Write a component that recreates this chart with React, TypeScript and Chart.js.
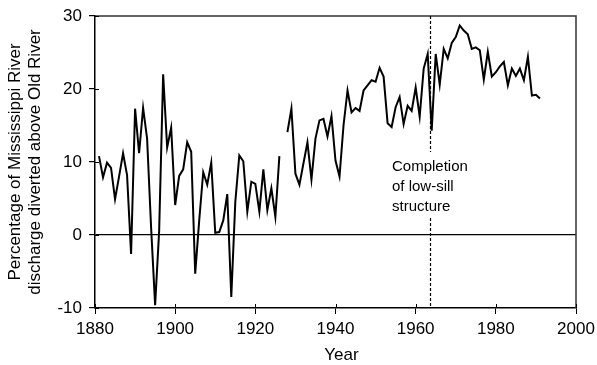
import React, { useEffect, useRef } from "react";
import { Chart, registerables } from "chart.js";

Chart.register(...registerables);

const years: number[] = [
  1881, 1882, 1883, 1884, 1885, 1886, 1887, 1888, 1889, 1890,
  1891, 1892, 1893, 1894, 1895, 1896, 1897, 1898, 1899, 1900,
  1901, 1902, 1903, 1904, 1905, 1906, 1907, 1908, 1909, 1910,
  1911, 1912, 1913, 1914, 1915, 1916, 1917, 1918, 1919, 1920,
  1921, 1922, 1923, 1924, 1925, 1926, 1927, 1928, 1929, 1930,
  1931, 1932, 1933, 1934, 1935, 1936, 1937, 1938, 1939, 1940,
  1941, 1942, 1943, 1944, 1945, 1946, 1947, 1948, 1949, 1950,
  1951, 1952, 1953, 1954, 1955, 1956, 1957, 1958, 1959, 1960,
  1961, 1962, 1963, 1964, 1965, 1966, 1967, 1968, 1969, 1970,
  1971, 1972, 1973, 1974, 1975, 1976, 1977, 1978, 1979, 1980,
  1981, 1982, 1983, 1984, 1985, 1986, 1987, 1988, 1989, 1990,
  1991,
];

const percentDiverted: (number | null)[] = [
  10.8, 7.9, 9.9, 9.2, 4.9, 8.0, 11.2, 8.2, -2.6, 17.3,
  11.2, 17.4, 13.2, 1.0, -9.6, 0.5, 22.0, 12.0, 14.7, 4.1,
  8.1, 9.0, 12.7, 11.4, -5.3, 2.0, 8.6, 6.9, 9.9, 0.3,
  0.4, 2.0, 5.6, -8.5, 4.5, 10.9, 10.1, 3.2, 7.3, 7.0,
  3.2, 9.0, 3.4, 6.4, 2.5, 10.8, null, 14.1, 17.3, 8.4,
  6.9, 9.8, 12.7, 7.6, 13.2, 15.7, 15.9, 13.5, 16.3, 10.2,
  8.0, 15.0, 19.8, 16.8, 17.4, 17.0, 19.8, 20.5, 21.2, 21.0,
  22.9, 21.7, 15.3, 14.8, 17.5, 18.9, 15.2, 17.7, 17.0, 20.2,
  16.2, 22.8, 24.8, 14.3, 24.8, 20.6, 25.5, 24.2, 26.3, 27.1,
  28.7, 28.0, 27.5, 25.5, 25.7, 25.3, 21.3, 25.1, 21.7, 22.3,
  23.1, 23.7, 20.5, 22.8, 21.8, 22.8, 21.2, 24.4, 19.1, 19.2,
  18.7,
];

const xTicks: number[] = [1880, 1900, 1920, 1940, 1960, 1980, 2000];
const yTicks: number[] = [-10, 0, 10, 20, 30];
const completionYear = 1963.6;
const annotationLines: string[] = ["Completion", "of low-sill", "structure"];
const yTitleLines: string[] = ["Percentage of Mississippi River", "discharge diverted above Old River"];
const xTitle = "Year";

const FONT = "'Liberation Sans', Arial, Helvetica, sans-serif";

const overlayPlugin = {
  id: "overlay",
  afterDraw(chart: any) {
    const { ctx, chartArea, scales } = chart;
    const xs = scales.x;
    const ys = scales.y;
    ctx.save();
    // top & right border
    ctx.strokeStyle = "#333";
    ctx.lineWidth = 1.5;
    ctx.beginPath();
    ctx.moveTo(chartArea.left, chartArea.top);
    ctx.lineTo(chartArea.right, chartArea.top);
    ctx.lineTo(chartArea.right, chartArea.bottom);
    ctx.stroke();

    // inner tick marks
    ctx.strokeStyle = "#000";
    ctx.lineWidth = 1;
    ctx.beginPath();
    yTicks.forEach((v) => {
      const py = Math.round(ys.getPixelForValue(v)) + 0.5;
      ctx.moveTo(chartArea.left, py);
      ctx.lineTo(chartArea.left + 4, py);
    });
    xTicks.forEach((v) => {
      const px = Math.round(xs.getPixelForValue(v)) + 0.5;
      ctx.moveTo(px, chartArea.bottom);
      ctx.lineTo(px, chartArea.bottom - 4);
    });
    ctx.stroke();

    // dashed completion line with gap for the label
    const dx = Math.round(xs.getPixelForValue(completionYear)) + 0.5;
    ctx.setLineDash([3, 2]);
    ctx.lineWidth = 1.2;
    ctx.beginPath();
    ctx.moveTo(dx, chartArea.top);
    ctx.lineTo(dx, 152);
    ctx.moveTo(dx, 218);
    ctx.lineTo(dx, chartArea.bottom);
    ctx.stroke();
    ctx.setLineDash([]);

    // annotation text
    ctx.fillStyle = "#000";
    ctx.font = `15px ${FONT}`;
    ctx.textAlign = "left";
    ctx.textBaseline = "middle";
    annotationLines.forEach((t, i) => {
      ctx.fillText(t, 392, 167 + i * 20);
    });

    // axis titles
    ctx.font = `17px ${FONT}`;
    ctx.textAlign = "center";
    ctx.textBaseline = "middle";
    ctx.fillText(xTitle, (chartArea.left + chartArea.right) / 2 + 6, 355);

    ctx.save();
    ctx.translate(25, (chartArea.top + chartArea.bottom) / 2);
    ctx.rotate(-Math.PI / 2);
    yTitleLines.forEach((t, i) => {
      ctx.fillText(t, 0, -10 + i * 20);
    });
    ctx.restore();
    ctx.restore();
  },
};

export default function App() {
  const canvasRef = useRef<HTMLCanvasElement | null>(null);

  useEffect(() => {
    document.body.style.margin = "0";
    const canvas = canvasRef.current;
    if (!canvas) return;
    const points = years.map((yr, i) => ({ x: yr, y: percentDiverted[i] }));
    const chart = new Chart(canvas, {
      type: "line",
      data: {
        datasets: [
          {
            data: points as any,
            borderColor: "#000",
            borderWidth: 2,
            pointRadius: 0,
            tension: 0,
            spanGaps: false,
            fill: false,
          },
        ],
      },
      options: {
        animation: false,
        responsive: false,
        maintainAspectRatio: false,
        devicePixelRatio: 1,
        layout: { padding: { left: 0, right: 21, top: 16, bottom: 0 } },
        plugins: {
          legend: { display: false },
          tooltip: { enabled: false },
        },
        scales: {
          x: {
            type: "linear",
            min: 1880,
            max: 2000,
            afterBuildTicks(scale: any) {
              scale.ticks = xTicks.map((v) => ({ value: v }));
            },
            afterFit(scale: any) {
              scale.height = 57;
              scale.paddingLeft = 0;
              scale.paddingRight = 0;
            },
            grid: {
              drawOnChartArea: false,
              drawTicks: true,
              tickLength: 6,
              tickColor: "#000",
            },
            border: { display: true, color: "#000", width: 1.5 },
            ticks: {
              color: "#000",
              font: { family: FONT, size: 17 },
              padding: 5,
              maxRotation: 0,
              autoSkip: false,
              callback: (v: any) => String(v),
            },
          },
          y: {
            type: "linear",
            min: -10,
            max: 30,
            afterBuildTicks(scale: any) {
              scale.ticks = yTicks.map((v) => ({ value: v }));
            },
            afterFit(scale: any) {
              scale.width = 95;
              scale.paddingTop = 0;
              scale.paddingBottom = 0;
            },
            grid: {
              drawOnChartArea: true,
              drawTicks: true,
              tickLength: 6,
              tickColor: "#000",
              color: (ctx: any) => (ctx.tick && ctx.tick.value === 0 ? "#000" : "rgba(0,0,0,0)"),
              lineWidth: 1.2,
            },
            border: { display: true, color: "#000", width: 1.5 },
            ticks: {
              color: "#000",
              font: { family: FONT, size: 17 },
              padding: 7,
              autoSkip: false,
              callback: (v: any) => String(v),
            },
          },
        },
      },
      plugins: [overlayPlugin],
    });
    return () => chart.destroy();
  }, []);

  return (
    <div style={{ width: 597, height: 365, position: "relative", background: "#fff" }}>
      <canvas ref={canvasRef} width={597} height={365} style={{ width: 597, height: 365, display: "block" }} />
    </div>
  );
}
